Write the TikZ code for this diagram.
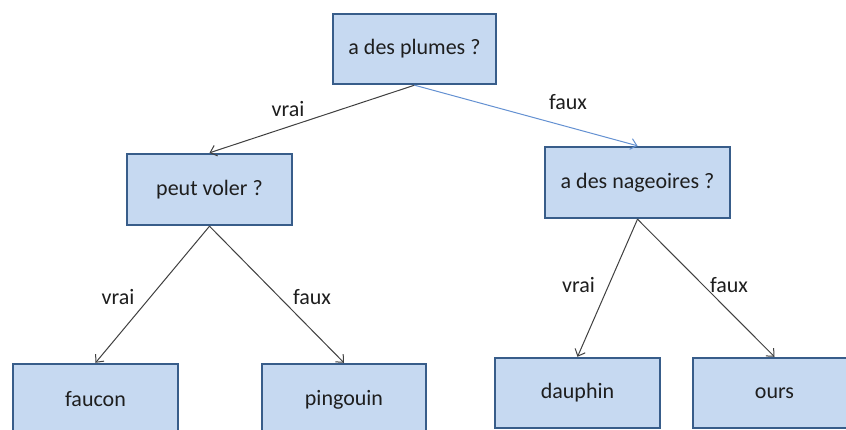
\documentclass[tikz,border=0pt]{standalone}
\usepackage{fontspec}
\setmainfont{Carlito}
\usetikzlibrary{arrows.meta}
\definecolor{boxfill}{RGB}{198,217,241}
\definecolor{boxdraw}{RGB}{56,93,138}
\definecolor{linegray}{RGB}{64,64,64}
\definecolor{lineblue}{RGB}{100,145,210}
\definecolor{txt}{RGB}{30,30,30}
\tikzset{
  decbox/.style={draw=boxdraw, line width=2.4pt, fill=boxfill, rectangle,
    minimum height=71pt, inner sep=0pt, text=txt,
    font=\fontsize{22pt}{26pt}\selectfont},
  lbl/.style={anchor=base, inner sep=0pt, text=txt,
    font=\fontsize{22pt}{26pt}\selectfont},
  edge/.style={draw=linegray, line width=1pt, -{Straight Barb[length=6pt,width=11pt]}},
  edgeblue/.style={draw=lineblue, line width=1pt, -{Straight Barb[length=6pt,width=11pt]}}
}
\begin{document}
\begin{tikzpicture}[x=1pt,y=-1pt]
\useasboundingbox (0,0) rectangle (846,430);
\clip (0,0) rectangle (846,430);
\fill[white] (0,0) rectangle (846,430);
\node[decbox, minimum width=163pt, minimum height=70pt] (root) at (414.5,49) {a des plumes ?};
\node[decbox, minimum width=165pt] (voler) at (209.5,189.5) {peut voler ?};
\node[decbox, minimum width=185pt] (nag) at (637.5,182.5) {a des nageoires ?};
\node[decbox, minimum width=165pt] (faucon) at (95.5,399.5) {faucon};
\node[decbox, minimum width=164pt] (pingouin) at (344,399.5) {pingouin};
\node[decbox, minimum width=165pt, minimum height=70pt] (dauphin) at (577.5,393) {dauphin};
\node[decbox, minimum width=163pt, minimum height=70pt] (ours) at (774.5,393) {ours};

\draw[edge] (root.south) -- (voler.north);
\draw[edgeblue] (root.south) -- (nag.north);
\draw[edge] (voler.south) -- (faucon.north);
\draw[edge] (voler.south) -- (pingouin.north);
\draw[edge] (nag.south) -- (dauphin.north);
\draw[edge] (nag.south) -- (ours.north);

\node[lbl] (l1) at (288,116.5) {vrai};
\node[lbl] (l2) at (568,110) {faux};
\node[lbl] (l3) at (118,305) {vrai};
\node[lbl] (l4) at (312,305) {faux};
\node[lbl] (l5) at (578.5,293) {vrai};
\node[lbl] (l6) at (729,293) {faux};
\end{tikzpicture}
\end{document}
